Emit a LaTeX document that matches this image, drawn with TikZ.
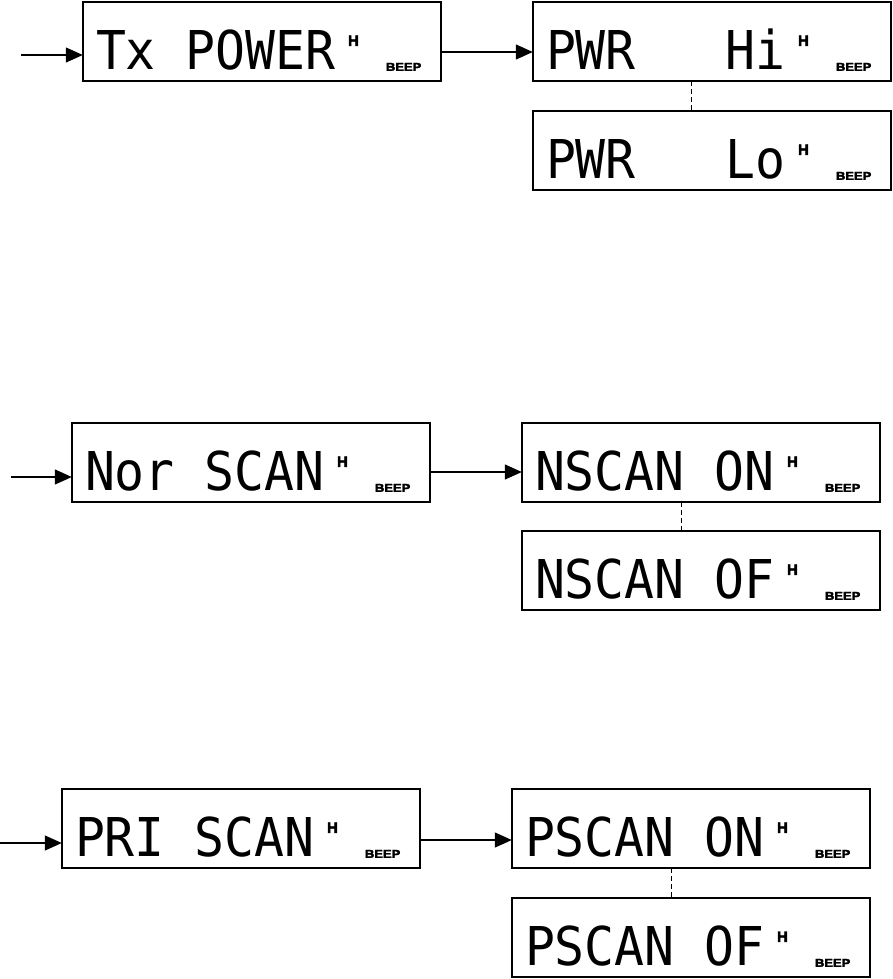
\documentclass[tikz,border=0pt]{standalone}
\usepackage{fontspec}
\usepackage{graphicx}
\usetikzlibrary{arrows.meta,calc}
\newfontfamily\lcdfont{DejaVu Sans Mono}[FakeStretch=0.93]
\newfontfamily\beepfont{Liberation Sans}[BoldFeatures={FakeBold=3}]
\tikzset{
  lcdframe/.style={draw, line width=1.6pt, minimum width=358.4pt, minimum height=79.4pt,
    inner sep=0pt, outer sep=0pt, anchor=north west},
  lcdtext/.style={anchor=base west, inner sep=0pt, font=\lcdfont\fontsize{53.5pt}{60pt}\selectfont},
  lcdh/.style={anchor=base west, inner sep=0pt, font=\beepfont\bfseries\fontsize{15pt}{17pt}\selectfont},
  lcdbeep/.style={anchor=base west, inner sep=0pt, font=\beepfont\bfseries\fontsize{12pt}{14pt}\selectfont},
  arr/.style={line width=1.3pt, -{Triangle[length=17pt,width=15pt]}},
  dashline/.style={line width=0.9pt, dash pattern=on 5pt off 3pt},
}
\newcommand\lcdpanel[4]{%
  \node[lcdframe] (#1) at (#2+0.8,#3+0.8) {};
  \node[lcdtext] (#1-t) at ($(#1.north west)+(13,68)$) {#4};
  \node[lcdh] (#1-h) at ($(#1.north west)+(265,44)$) {H};
  \node[lcdbeep] (#1-b) at ($(#1.north west)+(303,69)$) {\scalebox{1.08}[0.95]{BEEP}};
}
\begin{document}
\begin{tikzpicture}[x=1pt,y=-1pt]
\useasboundingbox (0,0) rectangle (893,979);
% row 1
\lcdpanel{A1}{82}{1}{Tx POWER}
\lcdpanel{B1}{532}{1}{PWR~~~Hi}
\lcdpanel{C1}{532}{110}{PWR~~~Lo}
% row 2
\lcdpanel{A2}{71}{422}{Nor SCAN}
\lcdpanel{B2}{521}{422}{NSCAN ON}
\lcdpanel{C2}{521}{530}{NSCAN OF}
% row 3
\lcdpanel{A3}{61}{788}{PRI SCAN}
\lcdpanel{B3}{511}{788}{PSCAN ON}
\lcdpanel{C3}{511}{897}{PSCAN OF}
% connectors
\coordinate (in1) at (21,55);
\coordinate (m1) at (0,52);
\coordinate (d1) at (691,0);
\draw[arr] (in1) -- (in1 -| A1.west);
\draw[arr] (m1 -| A1.east) -- (m1 -| B1.west);
\draw[dashline] (d1 |- B1.south) -- (d1 |- C1.north);
\coordinate (in2) at (11,477);
\coordinate (m2) at (0,472);
\coordinate (d2) at (681,0);
\draw[arr] (in2) -- (in2 -| A2.west);
\draw[arr] (m2 -| A2.east) -- (m2 -| B2.west);
\draw[dashline] (d2 |- B2.south) -- (d2 |- C2.north);
\coordinate (in3) at (0,843);
\coordinate (m3) at (0,840);
\coordinate (d3) at (671,0);
\draw[arr] (in3) -- (in3 -| A3.west);
\draw[arr] (m3 -| A3.east) -- (m3 -| B3.west);
\draw[dashline] (d3 |- B3.south) -- (d3 |- C3.north);
\end{tikzpicture}
\end{document}
